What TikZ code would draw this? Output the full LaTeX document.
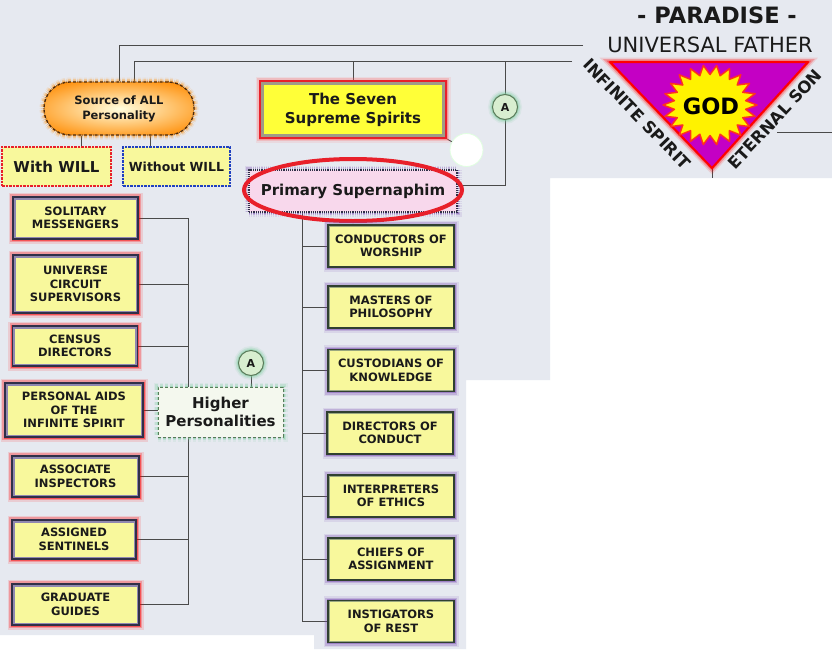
\documentclass[tikz,border=0pt]{standalone}
\usepackage{fontspec}
\setmainfont{DejaVu Sans}
\usetikzlibrary{calc,shapes.geometric}
\definecolor{bgc}{HTML}{E6E9F0}
\definecolor{linec}{HTML}{4A4A4A}
\definecolor{txtc}{HTML}{1A1A1A}
\definecolor{boxy}{HTML}{F8F89C}
\definecolor{navyc}{HTML}{303048}
\definecolor{bandp}{HTML}{9088B0}
\definecolor{greenc}{HTML}{304030}
\definecolor{bandg}{HTML}{9AA880}
\definecolor{purpc}{HTML}{7848B0}
\definecolor{redc}{HTML}{E8202A}
\definecolor{bluec}{HTML}{2040C0}
\definecolor{orangec}{HTML}{FF8A00}
\definecolor{lighty}{HTML}{FFFFE0}
\definecolor{brownc}{HTML}{4A2A10}
\definecolor{sevy}{HTML}{FFFF38}
\definecolor{greyband}{HTML}{A09A88}
\definecolor{pinkc}{HTML}{F8D8EC}
\definecolor{hpfill}{HTML}{F4F8EE}
\definecolor{hpdraw}{HTML}{5A7A5A}
\definecolor{hpglow}{HTML}{80D0A0}
\definecolor{afill}{HTML}{D8EED0}
\definecolor{magc}{HTML}{C400C4}
\definecolor{starred}{HTML}{FF3020}
\pgfdeclarelayer{bg}
\pgfdeclarelayer{lines}
\pgfsetlayers{bg,lines,main}
\begin{document}
\begin{tikzpicture}[x=1pt,y=-1pt,
  conn/.style={draw=linec, line width=0.9pt},
  bt/.style={font=\bfseries\fontsize{11.5}{13.5}\selectfont, align=center, text=txtc},
  glow/.style={preaction={draw=#1,line width=9pt,opacity=0.12},
               preaction={draw=#1,line width=6pt,opacity=0.25},
               preaction={draw=#1,line width=3pt,opacity=0.45}},
  band/.style={path picture={\draw[#1] (path picture bounding box.south west) rectangle (path picture bounding box.north east);}},
  lbox/.style={bt, rectangle, inner sep=0pt, fill=boxy, draw=navyc, line width=1.2pt, glow=red, band={draw=bandp, line width=5pt}, minimum width=125pt, minimum height=41pt},
  rbox/.style={bt, rectangle, inner sep=0pt, fill=boxy, draw=greenc, line width=1.2pt, glow=purpc, band={draw=bandg, line width=3pt}, minimum width=126pt, minimum height=42pt},
  srcbox/.style={rectangle, rounded corners=26pt, minimum width=150pt, minimum height=53pt, inner sep=0pt, fill=orangec, glow=orangec,
     path picture={\shade[inner color=lighty, outer color=orangec] (path picture bounding box.center) ellipse [x radius=105pt, y radius=33pt];},
     draw=brownc, densely dash dot, line width=1.3pt, align=center, text=txtc, font=\bfseries\fontsize{11.5}{15}\selectfont},
  willbox/.style={rectangle, inner sep=0pt, fill=boxy, line width=2pt, densely dash dot, minimum height=39pt, align=center, text=txtc},
  sevenbox/.style={rectangle, inner sep=0pt, fill=sevy, draw=redc, line width=2pt, glow=red!60, band={draw=greyband, line width=8pt}, minimum width=186pt, minimum height=57pt, align=center, text=txtc, font=\bfseries\fontsize{15}{19}\selectfont},
  primbox/.style={rectangle, inner sep=0pt, fill=pinkc, draw=navyc, densely dotted, line width=1.2pt, glow=purpc, minimum width=208pt, minimum height=42pt, text=txtc, font=\bfseries\fontsize{15}{18}\selectfont},
  hpbox/.style={rectangle, inner sep=0pt, fill=hpfill, draw=hpdraw, densely dashed, line width=0.8pt, glow=hpglow, minimum width=125pt, minimum height=50pt, align=center, text=txtc, font=\bfseries\fontsize{15}{18}\selectfont},
  abox/.style={circle, inner sep=0pt, minimum size=25pt, fill=afill, draw=hpdraw, line width=1pt, glow=hpglow, text=txtc, font=\bfseries\fontsize{11}{11}\selectfont},
]
\useasboundingbox (0,0) rectangle (832,656);
\begin{pgfonlayer}{bg}
  \fill[white] (0,0) rectangle (832,656);
  \fill[bgc] (0,0) -- (832,0) -- (832,178) -- (550,178) -- (550,380) -- (466,380) -- (466,649) -- (314,649) -- (314,635) -- (0,635) -- cycle;
\end{pgfonlayer}

% Paradise emblem
\coordinate (tl) at (610,62);
\coordinate (tr) at (808,62);
\coordinate (tb) at (712,168);
\coordinate (tb2) at (712,178);
\fill[magc, glow=red] (tl) -- (tr) -- (tb) -- cycle;
\draw[red, line width=2pt, line join=round] (tl) -- (tr) -- (tb) -- cycle;
\begin{scope}[shift={(710,105)}]
  \draw[fill=yellow, draw=starred, line width=1.5pt, line join=round]
    (47,0) \foreach \i [evaluate=\i as \a using {\i*360/44},
                              evaluate=\i as \rx using {47-11*mod(\i,2)},
                              evaluate=\i as \ry using {40-9.5*mod(\i,2)}] in {1,...,43} { -- ({\rx*cos(\a)},{\ry*sin(\a)}) } -- cycle;
\end{scope}
\node[font=\bfseries\fontsize{22.5}{24}\selectfont, text=black] (god) at (711,106) {GOD};
\node[font=\bfseries\fontsize{22.5}{24}\selectfont, text=txtc] (par) at (717,15) {- PARADISE -};
\node[font=\fontsize{21}{24}\selectfont, text=txtc] (uf) at (710,45) {UNIVERSAL FATHER};
\node[font=\bfseries\fontsize{16.5}{18}\selectfont, text=txtc, rotate=-46, inner sep=0pt] (is) at (637,114) {INFINITE SPIRIT};
\node[font=\bfseries\fontsize{16.5}{18}\selectfont, text=txtc, rotate=47, inner sep=0pt] (es) at (775,119) {ETERNAL SON};
\coordinate (rl1) at (777,132);
\coordinate (rl2) at (832,132);

% top nodes
\node[srcbox] (src) at (119,108.5) {Source of ALL\\Personality};
\node[willbox, draw=redc, minimum width=109pt, font=\bfseries\fontsize{15}{18}\selectfont] (ww) at (56.5,166.5) {With WILL};
\node[willbox, draw=bluec, minimum width=107pt, font=\bfseries\fontsize{12.5}{15}\selectfont] (wo) at (176.5,166.5) {Without WILL};
\node[sevenbox] (sss) at (353,109.5) {The Seven\\Supreme Spirits};
\node[abox] (a1) at (505,107) {A};
\node[circle, fill=white, draw=green!12, line width=0.8pt, minimum width=31pt, minimum height=33pt, inner sep=0pt] (wc) at (466.5,150) {};
\node[primbox] (prim) at (353,191) {Primary Supernaphim};
\node[ellipse, draw=redc, line width=4pt, minimum width=218pt, minimum height=62pt, inner sep=0pt] (hl) at (353,190) {};

% left column
\node[lbox, minimum height=42pt] (sol) at (75.5,218) {SOLITARY\\MESSENGERS};
\node[lbox, minimum height=58pt] (uni) at (75.5,284) {UNIVERSE\\CIRCUIT\\SUPERVISORS};
\node[lbox, minimum height=40pt] (cen) at (75,346) {CENSUS\\DIRECTORS};
\node[lbox, minimum width=138pt, minimum height=54pt] (pa) at (74,410) {PERSONAL AIDS\\OF THE\\INFINITE SPIRIT};
\node[lbox, minimum width=127pt] (ass) at (75.5,476.5) {ASSOCIATE\\INSPECTORS};
\node[lbox, minimum width=124pt, minimum height=39pt] (sen) at (74,539.5) {ASSIGNED\\SENTINELS};
\node[lbox, minimum width=127pt] (gra) at (75.5,604.5) {GRADUATE\\GUIDES};
\node[hpbox] (hp) at (220.5,412) {Higher\\Personalities};
\node[abox] (a2) at (251,363) {A};

% right column
\node[rbox] (r1) at (391,246) {CONDUCTORS OF\\WORSHIP};
\node[rbox] (r2) at (391,307) {MASTERS OF\\PHILOSOPHY};
\node[rbox] (r3) at (391,370.5) {CUSTODIANS OF\\KNOWLEDGE};
\node[rbox] (r4) at (390,433) {DIRECTORS OF\\CONDUCT};
\node[rbox] (r5) at (391,496) {INTERPRETERS\\OF ETHICS};
\node[rbox] (r6) at (391,559) {CHIEFS OF\\ASSIGNMENT};
\node[rbox] (r7) at (391,621.5) {INSTIGATORS\\OF REST};

\begin{pgfonlayer}{lines}
  \coordinate (t1) at (583,45);
  \coordinate (t2) at (572,61);
  \draw[conn] (t1) -| (src.north);
  \draw[conn] (t2) -| ([xshift=15pt]src.north);
  \draw[conn] (sss.north) -- (sss.north |- t2);
  \draw[conn] (a1.north) -- (a1.north |- t2);
  \draw[conn] (a1.south) |- ([yshift=6pt]prim.east);
  \draw[conn] ([xshift=-38pt]src.south) -- ([xshift=-38pt]src.south |- ww.north);
  \draw[conn] ([xshift=31pt]src.south) -- ([xshift=31pt]src.south |- wo.north);
  \draw[conn] (sss.south east) -- (wc);
  \draw[conn] (tb) -- (tb2);
  \draw[conn] (rl1) -- (rl2);
  \coordinate (lt) at (188,218);
  \coordinate (lb) at (188,604.5);
  \draw[conn] (lt) -- (lb);
  \foreach \n in {sol,uni,cen,ass,sen,gra} \draw[conn] (\n.east) -- (\n.east -| lt);
  \draw[conn] (pa.east) -- (pa.east -| hp.west);
  \draw[conn] (a2.south) -- (a2.south |- hp.north);
  \coordinate (rt) at (302,212);
  \coordinate (rb) at (302,621.5);
  \draw[conn] (rt) -- (rb);
  \foreach \n in {r1,r2,r3,r4,r5,r6,r7} \draw[conn] (\n.west) -- (\n.west -| rt);
\end{pgfonlayer}
\end{tikzpicture}
\end{document}
